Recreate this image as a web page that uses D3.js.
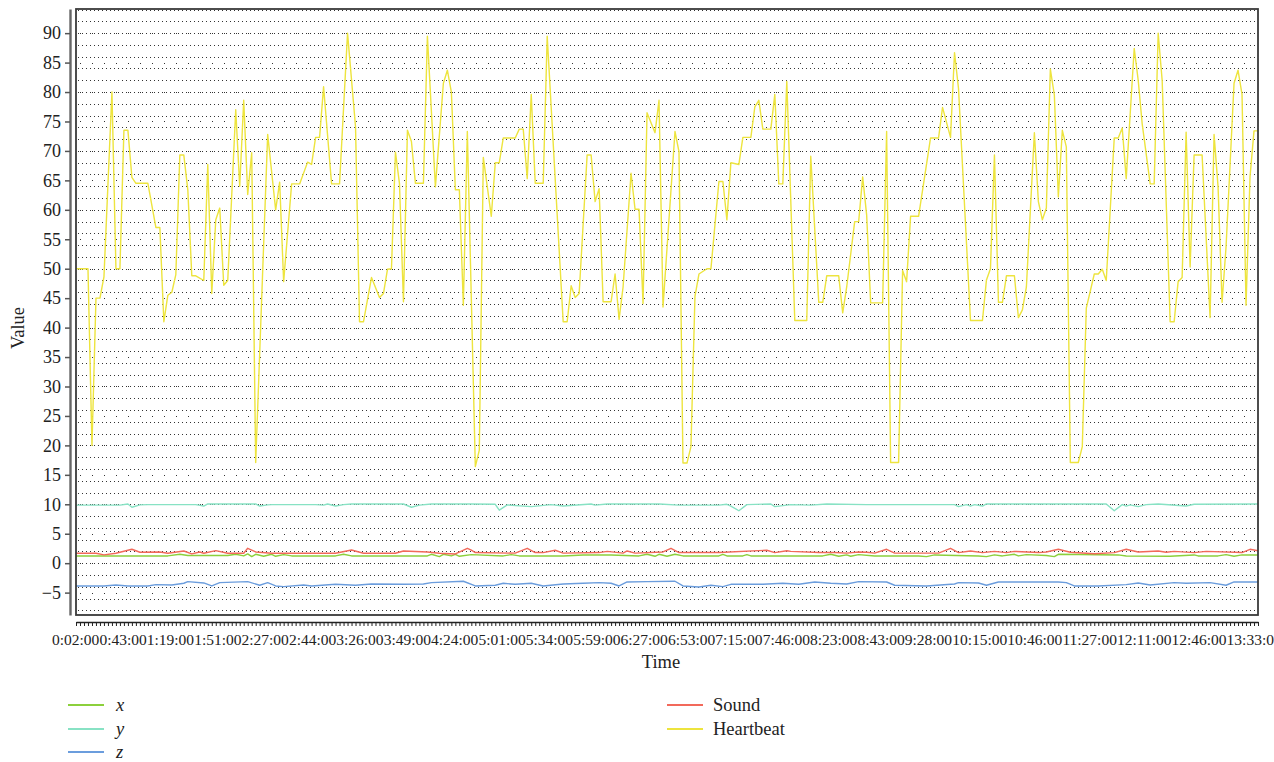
<!DOCTYPE html>
<html>
<head>
<meta charset="utf-8">
<script src="https://cdn.jsdelivr.net/npm/d3@7"></script>
<style>
  body { margin: 0; background: #fff; }
  svg text { font-family: "Liberation Serif", "Times New Roman", serif; }
</style>
</head>
<body>
<div id="chart"></div>
<script>
// tick labels
var yTickValues = [-5, 0, 5, 10, 15, 20, 25, 30, 35, 40, 45, 50, 55, 60, 65, 70, 75, 80, 85, 90];
var timeLabels = ["0:02:00", "0:43:00", "1:19:00", "1:51:00", "2:27:00", "2:44:00", "3:26:00", "3:49:00",
    "4:24:00", "5:01:00", "5:34:00", "5:59:00", "6:27:00", "6:53:00", "7:15:00", "7:46:00", "8:23:00",
    "8:43:00", "9:28:00", "10:15:00", "10:46:00", "11:27:00", "12:11:00", "12:46:00", "13:33:00"];
var sampleCount = 297;

// series, [sample index, value]
var heartbeat = [[0,50],[3,50],[4,20],[5,45],[6,45],[7,48.6],[9,80],[10,50],[11,50],[12,73.5],[13,73.5],
    [14,65.5],[15,64.5],[18,64.5],[20,57],[21,57],[22,41],[23,45.5],[24,46],[25,49],[26,69.3],[27,69.3],
    [28,63.4],[29,48.8],[30,48.8],[32,48],[33,67.7],[34,45.8],[35,58.3],[36,60.3],[37,47.2],[38,48],
    [40,77],[41,64],[42,78.6],[43,62.6],[44,69.7],[45,17.1],[48,72.8],[50,60],[51,64.7],[52,47.8],
    [54,64.4],[56,64.4],[58,68.1],[59,67.7],[60,72.3],[61,72.3],[62,80.9],[64,64.4],[66,64.4],[68,90],
    [70,74.1],[71,41],[72,41],[74,48.5],[76,45.1],[77,45.8],[78,49.9],[79,50],[80,69.8],[81,64.5],
    [82,44.4],[83,73.5],[84,71.6],[85,64.5],[87,64.5],[88,89.5],[90,63.9],[92,81.5],[93,83.7],[94,80],
    [95,63.4],[96,63.4],[97,43.8],[98,73.3],[100,16.4],[101,19.2],[102,68.9],[104,58.9],[105,68],[106,68],
    [107,72.2],[110,72.2],[111,73.7],[112,73.7],[113,65.3],[114,79.6],[115,64.5],[117,64.5],[118,89.5],
    [122,41],[123,41],[124,47.1],[125,45.1],[126,45.8],[128,69.3],[129,69.3],[130,61.4],[131,63.6],
    [132,44.4],[134,44.4],[135,49.1],[136,41.4],[137,46.9],[139,66.2],[140,60.1],[141,60.1],[142,44.1],
    [143,76.5],[145,73.1],[146,78.6],[147,43.5],[150,73.3],[151,69.9],[152,17],[153,17],[154,19.8],
    [155,45.3],[156,49.1],[158,50],[159,50],[161,64.8],[162,64.8],[163,58.3],[164,68],[166,67.7],
    [167,72.3],[169,72.3],[170,77.5],[171,78.6],[172,73.7],[174,73.7],[175,79.6],[176,64.4],[177,64.4],
    [178,81.8],[180,41.2],[183,41.2],[184,69.1],[186,44.3],[187,44.3],[188,48.8],[191,48.8],[192,42.5],
    [193,46.9],[195,58],[196,58],[197,65.6],[198,59.1],[199,44.2],[202,44.2],[203,73.3],[204,17.1],
    [206,17.1],[207,49.7],[208,47.8],[209,58.9],[211,58.9],[214,72.2],[216,72.2],[217,77.4],[219,72.3],
    [220,86.7],[221,80.6],[224,41.2],[227,41.2],[228,48.1],[229,50],[230,69.3],[231,44.3],[232,44.3],
    [233,48.8],[235,48.8],[236,41.7],[237,43],[238,46.9],[240,73.1],[241,61.4],[242,58.3],[243,60.3],
    [244,83.9],[245,79.5],[246,62.2],[247,73.5],[248,70.7],[249,17.1],[251,17.1],[252,19.8],[253,43.3],
    [255,49.1],[256,49.1],[257,49.9],[258,48],[260,72.2],[261,72.2],[262,73.9],[263,65.3],[265,87.4],
    [266,82],[267,74.6],[269,64.4],[270,64.4],[271,90],[272,82],[274,41],[275,41],[276,47.8],[277,48.5],
    [278,73.2],[279,50.3],[280,69.3],[282,69.3],[284,41.7],[285,72.8],[286,63.9],[287,44.3],[288,53.7],
    [290,81.5],[291,83.7],[292,79.6],[293,43.8],[294,65.6],[295,73.4],[296,73.4]];

var accY = [[0,9.85],[11,9.85],[13,10.05],[14,9.5],[16,9.9],[18,9.95],[30,9.95],[32,9.7],[33,10.05],
    [45,10.05],[46,9.7],[48,9.9],[49,9.95],[60,9.95],[62,9.85],[63,10.05],[65,9.7],[67,9.95],[69,10.05],
    [82,10.05],[84,9.5],[86,9.85],[89,10.05],[99,10.05],[105,10],[106,9.0],[108,9.9],[114,9.6],[119,9.95],
    [122,9.7],[129,10.05],[130,9.85],[133,10.05],[146,10.05],[151,9.85],[161,9.85],[163,10],[164,9.7],
    [166,8.9],[168,9.95],[174,10.05],[175,9.6],[179,9.95],[184,9.85],[188,10.05],[198,9.95],[220,9.95],
    [221,9.6],[223,9.95],[224,9.7],[225,9.95],[227,9.7],[228,10.05],[258,10.05],[260,8.9],[262,9.95],
    [263,9.7],[264,9.9],[266,9.6],[268,9.95],[271,10.05],[278,9.7],[280,10],[296,10.05]];

var sound = [[0,1.68],[5,1.68],[7,1.4],[10,1.68],[14,2.36],[16,1.85],[21,1.9],[23,1.68],[27,2.07],
    [29,1.57],[31,1.9],[32,1.68],[35,2.13],[38,1.68],[42,1.68],[43,2.53],[45,1.9],[49,1.68],[65,1.68],
    [69,2.24],[72,1.68],[80,1.68],[82,2.07],[88,1.9],[91,1.68],[95,1.57],[98,2.53],[99,2.2],[100,1.8],
    [110,1.7],[113,2.53],[115,1.8],[117,1.8],[120,2.2],[122,1.7],[131,1.8],[133,2.0],[137,1.7],[138,2.07],
    [140,1.7],[147,1.9],[149,2.53],[151,1.8],[161,1.8],[173,2.2],[175,1.8],[178,2.1],[179,2.0],[186,1.8],
    [190,1.8],[193,1.7],[196,1.9],[198,1.85],[200,1.7],[203,2.36],[205,1.7],[216,1.7],[219,2.53],
    [221,1.8],[224,2.07],[227,1.8],[230,2.0],[233,1.8],[235,2.0],[241,1.8],[243,1.9],[246,2.36],
    [249,1.85],[255,1.6],[260,1.8],[263,2.36],[266,1.9],[271,2.07],[273,1.85],[275,2.0],[280,1.8],
    [283,2.0],[292,1.8],[294,2.36],[296,2.1]];

var accX = [[0,1.23],[23,1.23],[26,1.51],[28,1.3],[38,1.3],[40,1.51],[42,1.23],[43,1.57],[44,1.12],
    [45,1.51],[47,1.17],[49,1.51],[50,1.17],[52,1.45],[54,1.23],[65,1.23],[67,1.51],[69,1.23],[88,1.23],
    [89,1.51],[91,1.12],[92,1.51],[94,1.23],[95,1.51],[96,1.17],[99,1.45],[107,1.23],[109,1.45],
    [111,1.23],[122,1.23],[127,1.4],[134,1.4],[141,1.23],[143,1.51],[145,1.17],[146,1.51],[148,1.17],
    [150,1.51],[152,1.23],[161,1.23],[162,1.51],[163,1.23],[167,1.23],[168,1.45],[169,1.23],[187,1.23],
    [189,1.51],[191,1.17],[193,1.4],[194,1.17],[196,1.45],[200,1.23],[211,1.23],[213,1.12],[215,1.4],
    [226,1.23],[228,1.12],[230,1.4],[232,1.23],[235,1.51],[236,1.23],[238,1.45],[243,1.3],[245,1.12],
    [246,1.51],[261,1.4],[263,1.23],[274,1.17],[280,1.4],[281,1.23],[286,1.23],[288,1.45],[290,1.17],
    [292,1.4],[296,1.4]];

var accZ = [[0,-3.87],[7,-3.87],[10,-3.7],[13,-3.87],[18,-3.87],[20,-3.64],[24,-3.7],[27,-3.41],
    [28,-3.13],[32,-3.36],[34,-3.87],[36,-3.3],[43,-3.13],[46,-3.75],[48,-3.3],[50,-3.87],[52,-3.98],
    [57,-3.7],[59,-3.87],[65,-3.59],[70,-3.75],[74,-3.53],[82,-3.59],[87,-3.53],[89,-3.3],[97,-3.07],
    [100,-3.87],[105,-3.75],[107,-3.41],[110,-3.59],[114,-3.41],[117,-3.87],[122,-3.53],[127,-3.41],
    [131,-3.3],[134,-3.41],[136,-3.87],[138,-3.19],[143,-3.13],[150,-3.07],[152,-3.87],[156,-4.04],
    [159,-3.75],[162,-3.98],[164,-3.59],[172,-3.59],[177,-3.41],[181,-3.59],[185,-3.19],[189,-3.41],
    [193,-3.53],[196,-3.13],[203,-3.2],[205,-3.75],[213,-3.87],[220,-3.53],[221,-3.3],[226,-3.36],
    [228,-3.75],[231,-3.19],[246,-3.19],[248,-3.3],[250,-3.87],[256,-3.87],[263,-3.64],[266,-3.36],
    [269,-3.7],[275,-3.3],[278,-3.41],[284,-3.3],[288,-3.75],[290,-3.19],[296,-3.19]];

var seriesNames = ["x", "y", "z", "Sound", "Heartbeat"];
var seriesColors = ["#8cd03c", "#88e2c4", "#6b9ddd", "#f2695b", "#ede43e"];

(function() {

    var width = 1274,
        height = 762;
    var plot = { left: 76, right: 1258, top: 9, bottom: 615 };
    var serif = '"Liberation Serif", "Times New Roman", serif';

    var svg = d3.select("#chart")
        .append("svg")
        .attr("width", width)
        .attr("height", height);

    svg.append("rect")
        .attr("width", width)
        .attr("height", height)
        .attr("fill", "#fff");

    var x = d3.scaleLinear()
        .domain([0, sampleCount - 1])
        .range([plot.left, plot.right]);

    var y = d3.scaleLinear()
        .domain([-8.8, 94.1])
        .range([plot.bottom, plot.top]);

    // dense dotted grid every 2 units, sparse one on the ticks
    var grid = svg.append("g").attr("shape-rendering", "crispEdges");
    grid.selectAll("line.minor")
        .data(d3.range(-8, 95, 2))
        .enter()
        .append("line")
        .attr("class", "minor")
        .attr("x1", plot.left + 2)
        .attr("x2", plot.right - 2)
        .attr("y1", function(d) { return Math.round(y(d)) + 0.5; })
        .attr("y2", function(d) { return Math.round(y(d)) + 0.5; })
        .attr("stroke", "#333")
        .attr("stroke-width", 1)
        .attr("stroke-dasharray", "1,3");

    grid.selectAll("line.major")
        .data(yTickValues)
        .enter()
        .append("line")
        .attr("class", "major")
        .attr("x1", plot.left + 4)
        .attr("x2", plot.right - 2)
        .attr("y1", function(d) { return Math.round(y(d)) + 0.5; })
        .attr("y2", function(d) { return Math.round(y(d)) + 0.5; })
        .attr("stroke", "#333")
        .attr("stroke-width", 1)
        .attr("stroke-dasharray", "1,11");

    // series lines
    var line = d3.line()
        .x(function(d) { return x(d[0]); })
        .y(function(d) { return y(d[1]); });

    var seriesData = [accX, accY, accZ, sound, heartbeat];
    svg.append("g")
        .selectAll("path")
        .data(seriesData)
        .enter()
        .append("path")
        .attr("d", line)
        .attr("fill", "none")
        .attr("stroke", function(d, i) { return seriesColors[i]; })
        .attr("stroke-width", 1.4)
        .attr("stroke-linejoin", "round");

    // plot frame
    svg.append("rect")
        .attr("x", plot.left)
        .attr("y", plot.top)
        .attr("width", plot.right - plot.left)
        .attr("height", plot.bottom - plot.top)
        .attr("fill", "none")
        .attr("stroke", "#3a3a3a")
        .attr("stroke-width", 1.8);

    // y axis, detached to the left of the frame
    var yAxis = d3.axisLeft(y)
        .tickValues(yTickValues)
        .tickSize(5)
        .tickSizeOuter(0)
        .tickPadding(4)
        .tickFormat(function(d) { return d < 0 ? "\u2212" + Math.abs(d) : d; });

    var yg = svg.append("g")
        .attr("transform", "translate(70,0)")
        .call(yAxis);
    yg.attr("font-family", null).attr("font-size", null);
    yg.select(".domain").attr("stroke", "#666").attr("stroke-width", 2.4);
    yg.selectAll(".tick line").attr("stroke", "#555").attr("stroke-width", 1.5);
    yg.selectAll(".tick text")
        .style("font-family", serif)
        .style("font-size", "18px")
        .attr("fill", "#222");

    // x axis with a tick for every sample
    var xAxis = d3.axisBottom(x)
        .tickValues(d3.range(0, sampleCount))
        .tickSize(4)
        .tickSizeOuter(0)
        .tickFormat("");

    var xg = svg.append("g")
        .attr("transform", "translate(0,622)")
        .call(xAxis);
    xg.select(".domain").attr("stroke", "#222").attr("stroke-width", 1.5);
    xg.selectAll(".tick line").attr("stroke", "#222").attr("stroke-width", 1);

    // time labels run together like in the original
    var labelText = svg.append("text")
        .attr("x", 52)
        .attr("y", 645)
        .style("font-family", serif)
        .style("font-size", "15.5px")
        .attr("fill", "#222");
    labelText.selectAll("tspan")
        .data(timeLabels)
        .enter()
        .append("tspan")
        .text(function(d) { return d; });

    // axis titles
    svg.append("text")
        .attr("x", 661)
        .attr("y", 668)
        .attr("text-anchor", "middle")
        .style("font-family", serif)
        .style("font-size", "18.5px")
        .attr("fill", "#222")
        .text("Time");

    svg.append("text")
        .attr("transform", "translate(24,328) rotate(-90)")
        .attr("text-anchor", "middle")
        .style("font-family", serif)
        .style("font-size", "18.5px")
        .attr("fill", "#222")
        .text("Value");

    // legend, two columns
    var legendPos = [[68, 705], [68, 729], [68, 752], [667, 705], [667, 729]];
    var legend = svg.append("g")
        .selectAll("g")
        .data(seriesNames)
        .enter()
        .append("g")
        .attr("transform", function(d, i) { return "translate(" + legendPos[i][0] + "," + legendPos[i][1] + ")"; });

    legend.append("line")
        .attr("x1", 0)
        .attr("x2", 36)
        .attr("stroke", function(d, i) { return seriesColors[i]; })
        .attr("stroke-width", 2);

    legend.append("text")
        .attr("x", function(d, i) { return i < 3 ? 48 : 46; })
        .attr("dy", "0.33em")
        .style("font-family", serif)
        .style("font-size", "18.5px")
        .style("font-style", function(d, i) { return i < 3 ? "italic" : "normal"; })
        .attr("fill", "#222")
        .text(function(d) { return d; });

})();
</script>
</body>
</html>
